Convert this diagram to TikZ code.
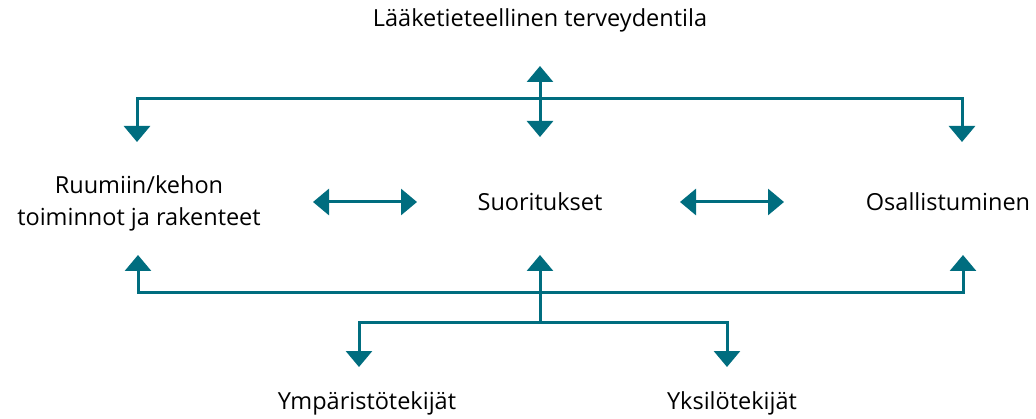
\documentclass[tikz,border=0pt]{standalone}
\usepackage{fontspec}
\setmainfont{Open Sans}
\definecolor{icf-teal}{RGB}{0,109,127}
\usetikzlibrary{arrows.meta}
\usetikzlibrary{positioning}

\begin{document}
\begin{tikzpicture}[%
            x=1pt, y=1pt,
            tip/.tip={Triangle[width=26pt,length=16pt]},
            term/.style={%
              font=\fontsize{23.5}{32}\selectfont,
              align=center,
              inner sep=0pt,
            },
            link/.style={%
              icf-teal,
              line width=3pt,
              -tip,
            },
            both/.style={%
              link,
              tip-tip,
            }
          ]
            \useasboundingbox (0,0) rectangle (1036,418);

            \node [term] (activity) at (540,216) {Suoritukset};
            \node [term] (health) at (540,398) {Lääketieteellinen terveydentila};
            \node [term] (body) at (139,215) {Ruumiin/kehon\\toiminnot ja rakenteet};
            \node [term] (participation) at (948,216) {Osallistuminen};
            \node [term] (environment) at (367,15) {Ympäristötekijät};
            \node [term] (personal) at (732,15) {Yksilötekijät};

            % ends of the connectors
            \coordinate (health out) at (540,352);
            \coordinate (activity top) at (540,281);
            \coordinate (top bus) at (540,319);
            \coordinate (body top) at (137,276);
            \coordinate (participation top) at (962,276);
            \coordinate (bottom bus) at (540,125);
            \coordinate (body bottom) at (138,163);
            \coordinate (activity bottom) at (540,163);
            \coordinate (participation bottom) at (963,163);
            \coordinate (split) at (540,96);
            \coordinate (environment top) at (359,51);
            \coordinate (personal top) at (727,51);
            \coordinate [left=123pt of activity.center] (activity left);
            \coordinate [left=227pt of activity.center] (body right);
            \coordinate [right=140pt of activity.center] (activity right);
            \coordinate [right=244pt of activity.center] (participation left);

            \draw [both] (health out) -- (activity top);
            \draw [both] (body top) |- (top bus) -| (participation top);
            \draw [both] (body bottom) |- (bottom bus) -| (participation bottom);
            \draw [link] (split) -- (activity bottom);
            \draw [both] (environment top) |- (split) -| (personal top);
            \draw [both] (body right) -- (activity left);
            \draw [both] (activity right) -- (participation left);
          \end{tikzpicture}
\end{document}
